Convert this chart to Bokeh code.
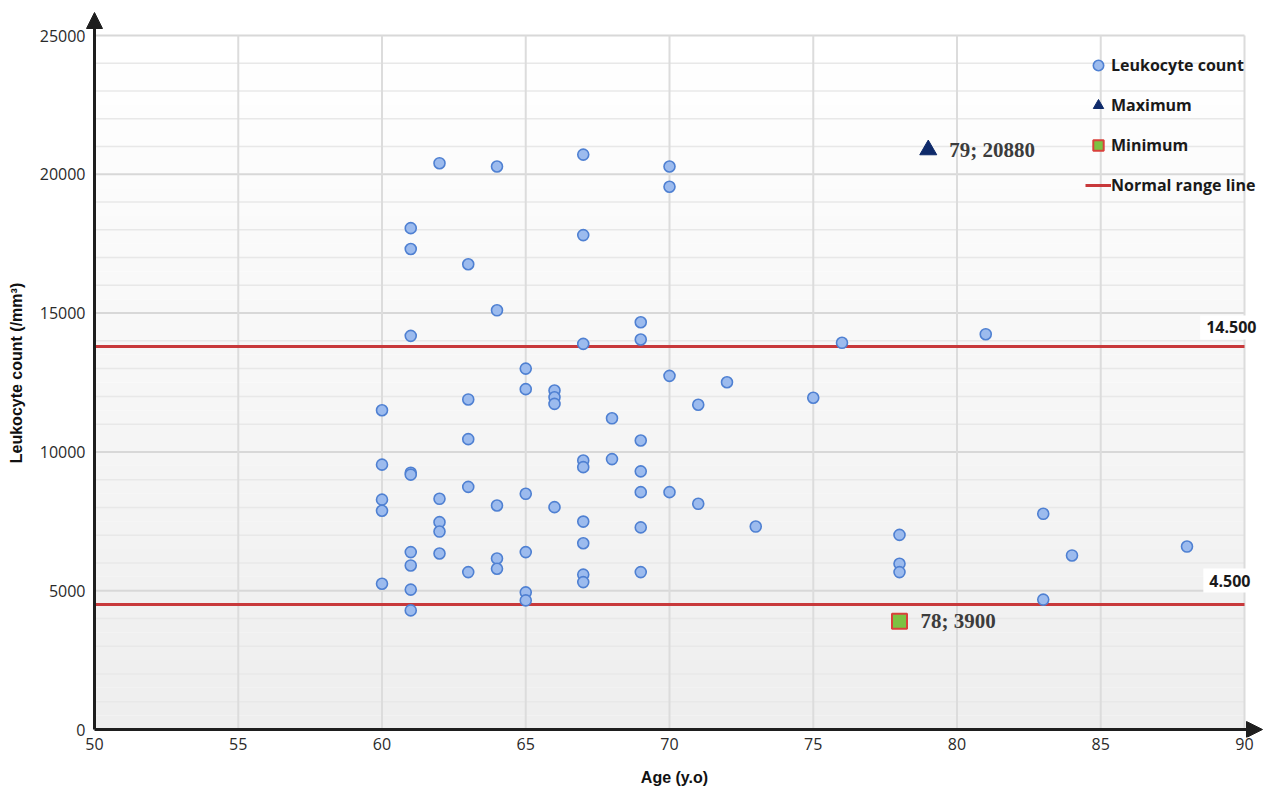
from bokeh.plotting import figure
from bokeh.models import (Range1d, FixedTicker, Arrow, NormalHead, Label, Legend,
                          LegendItem, ColumnDataSource)
from bokeh.embed import file_html
from bokeh.resources import INLINE

# ---------------- data ----------------
ages = [60, 60, 60, 60, 60,
        61, 61, 61, 61, 61, 61, 61, 61, 61,
        62, 62, 62, 62, 62,
        63, 63, 63, 63, 63,
        64, 64, 64, 64, 64,
        65, 65, 65, 65, 65, 65,
        66, 66, 66, 66,
        67, 67, 67, 67, 67, 67, 67, 67, 67,
        68, 68,
        69, 69, 69, 69, 69, 69, 69,
        70, 70, 70, 70,
        71, 71, 72, 73, 75, 76,
        78, 78, 78, 81, 83, 83, 84, 88]
counts = [11500, 9540, 8280, 7880, 5250,
          18060, 17310, 14180, 9250, 9180, 6390, 5910, 5040, 4290,
          20400, 8310, 7470, 7130, 6340,
          16760, 11890, 10460, 8740, 5670,
          20280, 15100, 8070, 6160, 5790,
          13000, 12260, 8490, 6390, 4940, 4650,
          12210, 11970, 11730, 8010,
          20710, 17810, 13890, 9690, 9450, 7490, 6710, 5580, 5310,
          11210, 9740,
          14670, 14050, 10410, 9300, 8550, 7280, 5670,
          20280, 19550, 12740, 8550,
          11700, 8130, 12510, 7310, 11950, 13930,
          7010, 5970, 5670, 14240, 7770, 4680, 6270, 6590]

max_age, max_count = [79], [20880]
min_age, min_count = [78], [3900]

normal_labels = ["14.500", "4.500"]
normal_levels = [13800, 4500]      # where the lines are drawn in the picture

x_ticks = [50, 55, 60, 65, 70, 75, 80, 85, 90]
y_ticks = [0, 5000, 10000, 15000, 20000, 25000]
y_minor = [v for v in range(0, 25001, 1000) if v % 5000 != 0]

X0, X1 = x_ticks[0], x_ticks[-1]
Y0, Y1 = y_ticks[0], y_ticks[-1]

# ---------------- figure ----------------
PX_X = 28.75      # pixels per year
PX_Y = 0.02776    # pixels per count unit
FW, FH = 1178, 729
x_start = X0 - 9 / PX_X
y_start = Y0 - 8 / PX_Y
p = figure(frame_width=FW, frame_height=FH, output_backend="svg", toolbar_location=None,
           x_range=Range1d(x_start, x_start + FW / PX_X),
           y_range=Range1d(y_start, y_start + FH / PX_Y),
           min_border_left=85, min_border_right=0, min_border_top=8,
           min_border_bottom=46)
p.outline_line_color = None
p.background_fill_color = "white"
p.border_fill_color = "white"
p.xgrid.visible = False
p.ygrid.visible = False

# background gradient (white at top to light grey at bottom)
n = 50
bt, tp, cols = [], [], []
for i in range(n):
    b = Y0 + (Y1 - Y0) * i / n
    t = Y0 + (Y1 - Y0) * (i + 1) / n
    f = i / (n - 1)
    c = int(round(0xee + (0xff - 0xee) * f))
    bt.append(b); tp.append(t); cols.append("#%02x%02x%02x" % (c, c, c))
p.quad(left=X0, right=X1, bottom=bt, top=tp, fill_color=cols, line_color=None)

# grid lines
p.segment(x0=X0, x1=X1, y0=y_minor, y1=y_minor, line_color="#e8e8e8", line_width=1.5)
p.segment(x0=X0, x1=X1, y0=y_ticks[1:], y1=y_ticks[1:], line_color="#d8d8d8", line_width=2)
p.segment(x0=x_ticks[1:], x1=x_ticks[1:], y0=Y0, y1=Y1, line_color="#dcdcdc", line_width=2)

# normal range lines
r_line = p.segment(x0=X0, x1=X1, y0=normal_levels, y1=normal_levels,
                   line_color="#c8393b", line_width=3)

# scatter
src = ColumnDataSource(dict(age=ages, count=counts))
r_pts = p.scatter("age", "count", source=src, size=11, marker="circle",
                  fill_color="#9cbbee", line_color="#4f80d2", line_width=1.6)
r_max = p.scatter(max_age, max_count, marker="triangle", size=17,
                  fill_color="#0e2a6a", line_color="#0e2a6a")
r_min = p.scatter(min_age, min_count, marker="square", size=15,
                  fill_color="#7cc242", line_color="#d9413b", line_width=2)

# max / min labels
for xa, ya in ((max_age, max_count), (min_age, min_count)):
    p.add_layout(Label(x=xa[0], y=ya[0], x_offset=21, text=f"{xa[0]}; {ya[0]}",
                       text_baseline="middle", text_font="Liberation Serif",
                       text_font_style="bold", text_font_size="21px",
                       text_color="#3c3c3c"))

# normal range value labels
for lab, lev, xo, yo in zip(normal_labels, normal_levels, [18, 12], [19, 24]):
    p.add_layout(Label(x=X1, y=lev, x_offset=xo, y_offset=yo, text=lab,
                       text_align="right", text_baseline="middle",
                       text_font="Open Sans", text_font_style="bold",
                       text_font_size="16px", text_color="#1a1a1a",
                       background_fill_color="white", background_fill_alpha=1.0,
                       padding=6))

# axes styling
for ax in (p.xaxis[0], p.yaxis[0]):
    ax.axis_line_color = None
    ax.major_tick_line_color = None
    ax.minor_tick_line_color = None
    ax.major_label_text_font = "Open Sans"
    ax.major_label_text_font_size = "16px"
    ax.major_label_text_color = "#2a2a2a"
    ax.axis_label_text_font = "Liberation Sans"
    ax.axis_label_text_font_style = "bold"
    ax.axis_label_text_font_size = "16px"
    ax.axis_label_text_color = "#111111"
p.xaxis.ticker = FixedTicker(ticks=x_ticks)
p.yaxis.ticker = FixedTicker(ticks=y_ticks)
p.xaxis.major_label_standoff = -6
p.yaxis.major_label_standoff = -6
p.xaxis.axis_label = "Age (y.o)"
p.yaxis.axis_label = "Leukocyte count (/mm³)"
p.xaxis.axis_label_standoff = 16
p.yaxis.axis_label_standoff = 12

# axis lines with arrow heads
head = dict(size=16, fill_color="#1e1e1e", line_color="#1e1e1e")
p.add_layout(Arrow(x_start=X0, y_start=Y0, x_end=X0, y_end=p.y_range.end - 4 / PX_Y,
                   line_color="#1e1e1e", line_width=3, end=NormalHead(**head)))
p.add_layout(Arrow(x_start=X0, y_start=Y0, x_end=p.x_range.end - 1 / PX_X, y_end=Y0,
                   line_color="#1e1e1e", line_width=3, end=NormalHead(**head)))

# legend
legend = Legend(items=[
    LegendItem(label="Leukocyte count", renderers=[r_pts]),
    LegendItem(label="Maximum", renderers=[r_max]),
    LegendItem(label="Minimum", renderers=[r_min]),
    LegendItem(label="Normal range line", renderers=[r_line]),
], location=(995, 534), orientation="vertical")
legend.label_text_font = "Open Sans"
legend.label_text_font_style = "bold"
legend.label_text_font_size = "16px"
legend.label_text_color = "#1a1a1a"
legend.label_height = 22
legend.glyph_height = 26
legend.glyph_width = 26
legend.spacing = 14
legend.padding = 5
legend.margin = 0
legend.label_standoff = 0
legend.background_fill_alpha = 0
legend.border_line_alpha = 0
p.add_layout(legend)

open("out.html", "w").write(file_html(p, INLINE))
